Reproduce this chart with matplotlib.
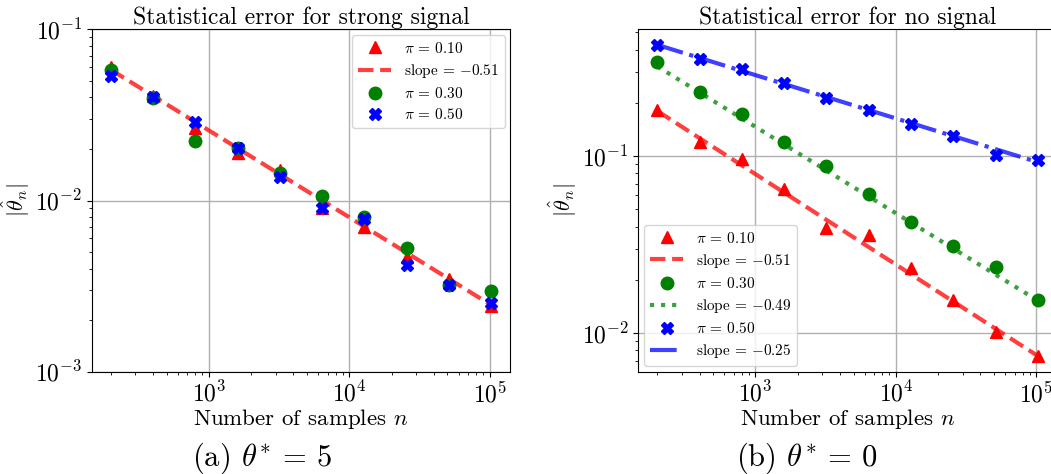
import numpy as np
import matplotlib
matplotlib.use("Agg")
import matplotlib.pyplot as plt

plt.rcParams['font.family'] = 'serif'
plt.rcParams['font.serif'] = ['cmr10']
plt.rcParams['mathtext.fontset'] = 'cm'
plt.rcParams['axes.formatter.use_mathtext'] = True
plt.rcParams['axes.unicode_minus'] = False

# ---- data ----
n_samples = [200, 400, 800, 1600, 3200, 6400, 12800, 25600, 51200, 102400]

# (a) strong signal
strong_pi10 = [0.0605, 0.0408, 0.0264, 0.0189, 0.0151, 0.0090, 0.00697, 0.0047, 0.00347, 0.00242]
strong_pi30 = [0.0578, 0.0395, 0.0224, 0.0202, 0.0144, 0.0106, 0.00805, 0.0053, 0.0032, 0.00297]
strong_pi50 = [0.0536, 0.0404, 0.0289, 0.0202, 0.0138, 0.0091, 0.0078, 0.0042, 0.0032, 0.00253]
strong_fit10_ends = [0.0581, 0.00245]

# (b) no signal
none_pi10 = [0.1815, 0.120, 0.0958, 0.0655, 0.0395, 0.0357, 0.0235, 0.0155, 0.01014, 0.00743]
none_pi30 = [0.338, 0.229, 0.173, 0.120, 0.0879, 0.0609, 0.0425, 0.0311, 0.0238, 0.0155]
none_pi50 = [0.425, 0.355, 0.310, 0.259, 0.213, 0.1815, 0.152, 0.1306, 0.1009, 0.0949]
none_fit10_ends = [0.180, 0.00745]
none_fit30_ends = [0.321, 0.0153]
none_fit50_ends = [0.425, 0.0925]

labels_pi = [r'$\pi$ = 0.10', r'$\pi$ = 0.30', r'$\pi$ = 0.50']
slope_labels_a = [r'slope = $-$0.51']
slope_labels_b = [r'slope = $-$0.51', r'slope = $-$0.49', r'slope = $-$0.25']
captions = [r'(a) $\theta^{*}$ = 5', r'(b) $\theta^{*}$ = 0']

W, H = 1051, 474
fig = plt.figure(figsize=(W / 100, H / 100), dpi=100)

axw = 418.5 / W
axh = 342.4 / H
ax1 = fig.add_axes([91.7 / W, (H - 371.7) / H, axw, axh])
ax2 = fig.add_axes([638.3 / W, (H - 371.7) / H, axw, axh])

ms = 9
lw = 3
ends_x = [n_samples[0], n_samples[-1]]
leg_kw = dict(fontsize=11, handlelength=2.2, labelspacing=0.4, borderaxespad=0.35)

# (a)
ax1.plot(n_samples, strong_pi10, '^', color='red', ms=ms, label=labels_pi[0], zorder=3)
ax1.plot(ends_x, strong_fit10_ends, '--', color='red', alpha=0.75, lw=lw, label=slope_labels_a[0], zorder=3)
ax1.plot(n_samples, strong_pi30, 'o', color='green', ms=ms, label=labels_pi[1], zorder=3)
ax1.plot(n_samples, strong_pi50, 'X', color='blue', ms=ms, label=labels_pi[2], zorder=3)
ax1.set_xscale('log')
ax1.set_yscale('log')
ax1.set_ylim(1e-3, 1e-1)
ax1.set_title('Statistical error for strong signal', fontsize=17, pad=1)
ax1.legend(loc='upper right', **leg_kw)

# (b)
ax2.plot(n_samples, none_pi10, '^', color='red', ms=ms, label=labels_pi[0], zorder=3)
ax2.plot(ends_x, none_fit10_ends, '--', color='red', alpha=0.75, lw=lw, label=slope_labels_b[0], zorder=3)
ax2.plot(n_samples, none_pi30, 'o', color='green', ms=ms, label=labels_pi[1], zorder=3)
ax2.plot(ends_x, none_fit30_ends, ':', color='green', alpha=0.75, lw=lw, label=slope_labels_b[1], zorder=3)
ax2.plot(n_samples, none_pi50, 'X', color='blue', ms=ms, label=labels_pi[2], zorder=3)
ax2.plot(ends_x, none_fit50_ends, '-.', color='blue', alpha=0.75, lw=lw, label=slope_labels_b[2], zorder=3)
ax2.set_xscale('log')
ax2.set_yscale('log')
ax2.set_title('Statistical error for no signal', fontsize=17, pad=1)
ax2.legend(loc='lower left', **leg_kw)

for ax in (ax1, ax2):
    ax.grid(True, which='major', color='#b0b0b0', lw=1)
    ax.set_axisbelow(True)
    ax.tick_params(labelsize=17, which='major')
    ax.set_xlabel(r'Number of samples $n$', fontsize=16.5, labelpad=0)
    ax.set_ylabel(r'$|\hat{\theta}_n|$', fontsize=16, labelpad=2)

fig.text(262 / W, (H - 458) / H, captions[0], ha='center', va='center', fontsize=22)
fig.text(807 / W, (H - 458) / H, captions[1], ha='center', va='center', fontsize=22)

fig.savefig('out.png', dpi=100)
